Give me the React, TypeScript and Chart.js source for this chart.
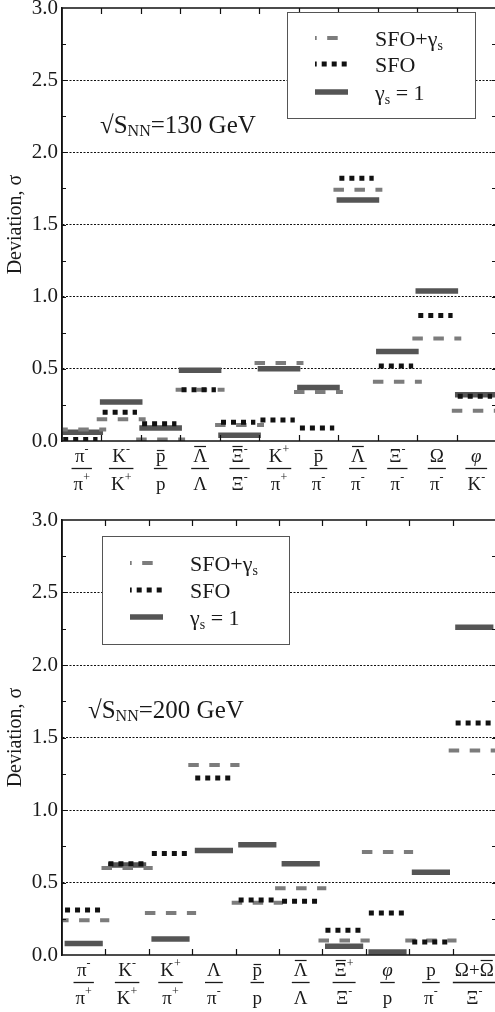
import React, { useEffect, useRef } from "react";
import { Chart, registerables } from "chart.js";

Chart.register(...registerables);

const SERIF = "'Liberation Serif', 'Times New Roman', serif";

// ---------------- data: top panel (130 GeV) ----------------
// label markup: "!" = overline on next symbol, "^x" = superscript x
const topNumerators = ["π^-", "K^-", "!p", "!Λ", "!Ξ^-", "K^+", "!p", "!Λ", "Ξ^-", "Ω", "φ"];
const topDenominators = ["π^+", "K^+", "p", "Λ", "Ξ^-", "π^+", "π^-", "π^-", "π^-", "π^-", "K^-"];
const topSfoGamma = [0.08, 0.15, 0.01, 0.355, 0.11, 0.54, 0.34, 1.74, 0.41, 0.71, 0.21];
const topSfo = [0.01, 0.2, 0.12, 0.355, 0.13, 0.145, 0.09, 1.82, 0.52, 0.87, 0.31];
const topGammaOne = [0.06, 0.27, 0.09, 0.49, 0.04, 0.5, 0.37, 1.67, 0.62, 1.04, 0.32];
const topEnergy = "√S_{NN}=130 GeV";

// ---------------- data: bottom panel (200 GeV) ----------------
const botNumerators = ["π^-", "K^-", "K^+", "Λ", "!p", "!Λ", "!Ξ^+", "φ", "p", "Ω+!Ω"];
const botDenominators = ["π^+", "K^+", "π^+", "π^-", "p", "Λ", "Ξ^-", "p", "π^-", "Ξ^-"];
const botSfoGamma = [0.24, 0.6, 0.29, 1.31, 0.36, 0.46, 0.1, 0.71, 0.1, 1.41];
const botSfo = [0.31, 0.63, 0.7, 1.22, 0.38, 0.37, 0.17, 0.29, 0.09, 1.6];
const botGammaOne = [0.08, 0.62, 0.11, 0.72, 0.76, 0.63, 0.06, 0.02, 0.57, 2.26];
const botEnergy = "√S_{NN}=200 GeV";

const seriesNames = ["SFO+γ_s", "SFO", "γ_s = 1"];
const yAxisTitle = "Deviation, σ";
const yMin = 0;
const yMax = 3;
const yStep = 0.5;
const yMinorStep = 0.25;

// ---------------- helpers ----------------
function segments(values: number[], from: number, to: number) {
  const pts: any[] = [];
  values.forEach((v, i) => {
    pts.push({ x: i + from, y: v }, { x: i + to, y: v });
    if (i < values.length - 1) pts.push({ x: i + 0.5, y: null });
  });
  return pts;
}

function parseSymbolLabel(s: string) {
  const chars = Array.from(s);
  const toks: { ch: string; over: boolean; sup: string }[] = [];
  let i = 0;
  while (i < chars.length) {
    let over = false;
    if (chars[i] === "!") {
      over = true;
      i++;
    }
    const ch = chars[i];
    i++;
    let sup = "";
    if (chars[i] === "^") {
      sup = chars[i + 1];
      i += 2;
    }
    toks.push({ ch, over, sup });
  }
  return toks;
}

function measureSymbolLabel(ctx: CanvasRenderingContext2D, s: string, size: number) {
  const toks = parseSymbolLabel(s);
  let w = 0;
  const parts = toks.map((t) => {
    const italic = t.ch === "φ";
    ctx.font = `${italic ? "italic " : ""}${size}px ${SERIF}`;
    const m = ctx.measureText(t.ch);
    let sw = 0;
    if (t.sup) {
      ctx.font = `${Math.round(size * 0.62)}px ${SERIF}`;
      sw = ctx.measureText(t.sup).width;
    }
    w += m.width + sw;
    return { t, w: m.width, asc: m.actualBoundingBoxAscent, sw, italic };
  });
  return { parts, w };
}

function drawSymbolLabel(ctx: CanvasRenderingContext2D, s: string, cx: number, baseline: number, size: number) {
  const { parts, w } = measureSymbolLabel(ctx, s, size);
  let x = cx - w / 2;
  ctx.textAlign = "left";
  ctx.textBaseline = "alphabetic";
  for (const p of parts) {
    ctx.font = `${p.italic ? "italic " : ""}${size}px ${SERIF}`;
    ctx.fillText(p.t.ch, x, baseline);
    if (p.t.over) {
      const oy = Math.round(baseline - p.asc - 3) + 0.5;
      ctx.beginPath();
      ctx.lineWidth = 1.2;
      ctx.moveTo(x + 1, oy);
      ctx.lineTo(x + p.w - 1, oy);
      ctx.stroke();
    }
    x += p.w;
    if (p.t.sup) {
      ctx.font = `${Math.round(size * 0.62)}px ${SERIF}`;
      ctx.fillText(p.t.sup, x, baseline - size * 0.45);
      x += p.sw;
    }
  }
  return w;
}

function richParts(s: string) {
  const parts: { t: string; sub: boolean }[] = [];
  let buf = "";
  let i = 0;
  while (i < s.length) {
    if (s[i] === "_") {
      if (buf) parts.push({ t: buf, sub: false });
      buf = "";
      if (s[i + 1] === "{") {
        const j = s.indexOf("}", i);
        parts.push({ t: s.slice(i + 2, j), sub: true });
        i = j + 1;
      } else {
        parts.push({ t: s[i + 1], sub: true });
        i += 2;
      }
    } else {
      buf += s[i];
      i++;
    }
  }
  if (buf) parts.push({ t: buf, sub: false });
  return parts;
}

function drawRich(ctx: CanvasRenderingContext2D, s: string, x: number, baseline: number, size: number, subSize: number, subDrop: number) {
  ctx.textAlign = "left";
  ctx.textBaseline = "alphabetic";
  for (const p of richParts(s)) {
    ctx.font = `${p.sub ? subSize : size}px ${SERIF}`;
    ctx.fillText(p.t, x, baseline + (p.sub ? subDrop : 0));
    x += ctx.measureText(p.t).width;
  }
}

type PanelLayout = {
  canvasTop: number;
  canvasHeight: number;
  solid: [number, number];
  dots: [number, number];
  dashes: [number, number];
  legendBox: [number, number, number, number];
  legendRows: number[];
  energyPos: [number, number];
};

const topLayout: PanelLayout = {
  canvasTop: -8,
  canvasHeight: 507,
  solid: [-0.54, 0.54],
  dots: [-0.47, 0.4],
  dashes: [-0.62, 0.62],
  legendBox: [225, 4, 188, 106],
  legendRows: [30, 56, 84],
  energyPos: [38, 125],
};

const botLayout: PanelLayout = {
  canvasTop: 504,
  canvasHeight: 509,
  solid: [-0.44, 0.44],
  dots: [-0.43, 0.4],
  dashes: [-0.59, 0.59],
  legendBox: [40, 16, 187, 108],
  legendRows: [43, 70, 97],
  energyPos: [26, 198],
};

function buildChart(
  canvas: HTMLCanvasElement,
  nums: string[],
  dens: string[],
  sfoGamma: number[],
  sfo: number[],
  gammaOne: number[],
  energy: string,
  L: PanelLayout
) {
  const n = nums.length;

  const panelPlugin = {
    id: "panelDecor",
    afterDatasetsDraw(chart: any) {
      const ctx: CanvasRenderingContext2D = chart.ctx;
      const { left, right, top, bottom } = chart.chartArea;
      const xs = chart.scales.x;
      const ys = chart.scales.y;
      ctx.save();
      ctx.strokeStyle = "#111";
      ctx.fillStyle = "#111";
      // frame
      ctx.lineWidth = 1.5;
      ctx.setLineDash([]);
      ctx.strokeRect(left, top, right - left, bottom - top);
      // minor/major y ticks on left and right
      ctx.lineWidth = 1.2;
      for (let v = yMin + yMinorStep; v < yMax - 1e-6; v += yMinorStep) {
        const y = Math.round(ys.getPixelForValue(v)) + 0.5;
        ctx.beginPath();
        ctx.moveTo(left, y);
        ctx.lineTo(left + 4, y);
        ctx.moveTo(right - 4, y);
        ctx.lineTo(right, y);
        ctx.stroke();
      }
      // category boundary ticks top and bottom
      for (let i = 0; i < n - 1; i++) {
        const x = Math.round(xs.getPixelForValue(i + 0.5)) + 0.5;
        ctx.beginPath();
        ctx.moveTo(x, top);
        ctx.lineTo(x, top + 6);
        ctx.moveTo(x, bottom);
        ctx.lineTo(x, bottom - 6);
        ctx.stroke();
      }
      ctx.restore();

      // legend
      const [bx, by, bw, bh] = L.legendBox;
      ctx.save();
      ctx.fillStyle = "#fff";
      ctx.fillRect(left + bx, top + by, bw, bh);
      ctx.strokeStyle = "#555";
      ctx.lineWidth = 1;
      ctx.strokeRect(Math.round(left + bx) + 0.5, Math.round(top + by) + 0.5, bw, bh);
      const sampleOffsets = [8.8, 3.3, 0];
      chart.data.datasets.forEach((ds: any, k: number) => {
        const y = top + L.legendRows[k];
        ctx.save();
        ctx.strokeStyle = ds.borderColor;
        ctx.lineWidth = ds.borderWidth;
        ctx.setLineDash(ds.borderDash || []);
        ctx.lineDashOffset = sampleOffsets[k];
        ctx.lineCap = "butt";
        ctx.beginPath();
        ctx.moveTo(left + bx + 28, y);
        ctx.lineTo(left + bx + 61, y);
        ctx.stroke();
        ctx.restore();
        ctx.fillStyle = "#1a1a1a";
        drawRich(ctx, seriesNames[k], left + bx + 88, y + 8, 22, 14, 4);
      });
      ctx.restore();

      // energy annotation
      ctx.save();
      ctx.fillStyle = "#1a1a1a";
      drawRich(ctx, energy, left + L.energyPos[0], top + L.energyPos[1], 25, 16, 3);
      ctx.restore();
    },
    afterDraw(chart: any) {
      const ctx: CanvasRenderingContext2D = chart.ctx;
      const xs = chart.scales.x;
      const { bottom } = chart.chartArea;
      ctx.save();
      ctx.fillStyle = "#1a1a1a";
      ctx.strokeStyle = "#1a1a1a";
      for (let i = 0; i < n; i++) {
        const cx = xs.getPixelForValue(i);
        const wN = measureSymbolLabel(ctx, nums[i], 19).w;
        const wD = measureSymbolLabel(ctx, dens[i], 19).w;
        drawSymbolLabel(ctx, nums[i], cx, bottom + 21, 19);
        drawSymbolLabel(ctx, dens[i], cx, bottom + 49, 19);
        const bw = Math.max(wN, wD) + 4;
        ctx.lineWidth = 1.3;
        ctx.setLineDash([]);
        const yb = Math.round(bottom + 27) + 0.5;
        ctx.beginPath();
        ctx.moveTo(cx - bw / 2, yb);
        ctx.lineTo(cx + bw / 2, yb);
        ctx.stroke();
      }
      ctx.restore();
    },
  };

  return new Chart(canvas, {
    type: "line",
    data: {
      datasets: [
        {
          label: seriesNames[0],
          data: segments(sfoGamma, L.dashes[0], L.dashes[1]),
          borderColor: "#7c7c7c",
          borderWidth: 4,
          borderDash: [10.5, 10.5],
          borderCapStyle: "butt",
          pointRadius: 0,
          spanGaps: false,
          tension: 0,
          order: 1,
        },
        {
          label: seriesNames[1],
          data: segments(sfo, L.dots[0], L.dots[1]),
          borderColor: "#111",
          borderWidth: 5,
          borderDash: [5, 5],
          borderCapStyle: "butt",
          pointRadius: 0,
          spanGaps: false,
          tension: 0,
          order: 0,
        },
        {
          label: seriesNames[2],
          data: segments(gammaOne, L.solid[0], L.solid[1]),
          borderColor: "#555",
          borderWidth: 5.5,
          borderCapStyle: "butt",
          pointRadius: 0,
          spanGaps: false,
          tension: 0,
          order: 2,
        },
      ] as any,
    },
    options: {
      animation: false,
      responsive: false,
      maintainAspectRatio: false,
      events: [],
      layout: { padding: { top: 16, right: 4, left: 0, bottom: 0 } },
      plugins: { legend: { display: false }, tooltip: { enabled: false } },
      scales: {
        x: {
          type: "linear",
          min: -0.5,
          max: n - 0.5,
          ticks: { display: false },
          grid: { display: false },
          border: { display: false },
          afterFit: (s: any) => {
            s.height = 58;
          },
        },
        y: {
          min: yMin,
          max: yMax,
          ticks: {
            stepSize: yStep,
            callback: (v: any) => Number(v).toFixed(1),
            font: { family: SERIF, size: 21, lineHeight: 1 },
            color: "#1a1a1a",
            padding: 4,
          },
          grid: {
            drawTicks: false,
            lineWidth: 1,
            color: (c: any) => (c.tick && c.tick.value > yMin && c.tick.value < yMax ? "#111" : "rgba(0,0,0,0)"),
          },
          border: { display: true, color: "#111", width: 1.5, dash: [2, 1.5] },
          title: {
            display: true,
            text: yAxisTitle,
            font: { family: SERIF, size: 20, lineHeight: 1.55 },
            color: "#1a1a1a",
            padding: 0,
          },
          afterFit: (s: any) => {
            s.width = 62;
          },
        },
      },
    } as any,
    plugins: [panelPlugin],
  });
}

function Panel(props: {
  nums: string[];
  dens: string[];
  sfoGamma: number[];
  sfo: number[];
  gammaOne: number[];
  energy: string;
  layout: PanelLayout;
}) {
  const ref = useRef<HTMLCanvasElement | null>(null);
  useEffect(() => {
    if (!ref.current) return;
    const chart = buildChart(
      ref.current,
      props.nums,
      props.dens,
      props.sfoGamma,
      props.sfo,
      props.gammaOne,
      props.energy,
      props.layout
    );
    return () => chart.destroy();
  }, []);
  const h = props.layout.canvasHeight;
  return (
    <canvas
      ref={ref}
      width={500}
      height={h}
      style={{ position: "absolute", left: 0, top: props.layout.canvasTop, width: 500, height: h }}
    />
  );
}

export default function App() {
  return (
    <div
      style={{
        position: "absolute",
        left: 0,
        top: 0,
        width: 495,
        height: 1012,
        overflow: "hidden",
        background: "#fff",
      }}
    >
      <Panel
        nums={topNumerators}
        dens={topDenominators}
        sfoGamma={topSfoGamma}
        sfo={topSfo}
        gammaOne={topGammaOne}
        energy={topEnergy}
        layout={topLayout}
      />
      <Panel
        nums={botNumerators}
        dens={botDenominators}
        sfoGamma={botSfoGamma}
        sfo={botSfo}
        gammaOne={botGammaOne}
        energy={botEnergy}
        layout={botLayout}
      />
    </div>
  );
}
